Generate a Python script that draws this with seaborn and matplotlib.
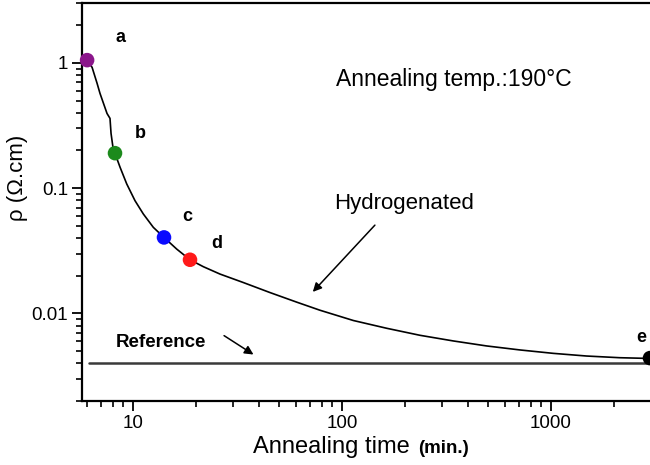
import numpy as np
import pandas as pd
import matplotlib
matplotlib.use("Agg")
import matplotlib.pyplot as plt
import matplotlib.ticker as mticker
import seaborn as sns

### Données
t_curve = [6.03, 6.37, 6.73, 6.95, 7.51, 7.76, 7.85, 8.02, 8.2, 8.67, 9.33, 10.22,
           11.2, 12.51, 14.07, 16.19, 18.74, 21.7, 26.09, 33.71, 45.24, 60.74, 78.49,
           113.3, 163.7, 236.1, 340.9, 492.4, 710.9, 1026, 1482, 2138, 2818, 2980]
rho_curve = [1.047, 0.92, 0.686, 0.57, 0.394, 0.36, 0.273, 0.211, 0.189, 0.1467,
             0.108, 0.0794, 0.0622, 0.0486, 0.0404, 0.0326, 0.0268, 0.0236, 0.0206,
             0.01764, 0.01467, 0.0123, 0.0106, 0.00878, 0.00761, 0.00669, 0.00603,
             0.0055, 0.00511, 0.0048, 0.00457, 0.00443, 0.00438, 0.00437]

pt_labels = ["a", "b", "c", "d", "e"]
pt_time = [6.03, 8.2, 14.07, 18.74, 2980]
pt_rho = [1.05, 0.19, 0.0404, 0.0268, 0.0044]
pt_colors = ["#8b168b", "#1c8a1c", "#0a0aff", "#ff1a1a", "#000000"]

ref_time = [6.16, 2980]
ref_rho = [0.0040, 0.0040]

x_ticks = [10, 100, 1000]
y_ticks = [0.01, 0.1, 1]
y_ticklabels = ["0.01", "0.1", "1"]

df_curve = pd.DataFrame({"t": t_curve, "rho": rho_curve})
df_ref = pd.DataFrame({"t": ref_time, "rho": ref_rho})
df_pts = pd.DataFrame({"t": pt_time, "rho": pt_rho, "lab": pt_labels})

### Style
sns.set_style("ticks")
plt.rcParams["font.family"] = ["Liberation Sans", "DejaVu Sans"]
plt.rcParams["text.color"] = "black"
plt.rcParams["axes.labelcolor"] = "black"
plt.rcParams["xtick.color"] = "black"
plt.rcParams["ytick.color"] = "black"

fig = plt.figure(figsize=(6.5, 4.65), dpi=100)
ax = fig.add_axes([82 / 650, 64 / 465, 568 / 650, 398 / 465])

sns.lineplot(data=df_ref, x="t", y="rho", ax=ax, color="#3a3a3a", lw=1.8, sort=False)
sns.lineplot(data=df_curve, x="t", y="rho", ax=ax, color="black", lw=1.2, sort=False)
sns.scatterplot(data=df_pts, x="t", y="rho", hue="lab", palette=pt_colors, s=110,
                edgecolor="none", legend=False, ax=ax, zorder=5, clip_on=False)

ax.set_xscale("log")
ax.set_yscale("log")
ax.set_xlim(5.7, 2980)
ax.set_ylim(0.002, 3.0)

ax.xaxis.set_major_locator(mticker.FixedLocator(x_ticks))
ax.xaxis.set_major_formatter(mticker.FixedFormatter([str(v) for v in x_ticks]))
ax.xaxis.set_minor_locator(mticker.LogLocator(base=10, subs=np.arange(2, 10), numticks=20))
ax.xaxis.set_minor_formatter(mticker.NullFormatter())
ax.yaxis.set_major_locator(mticker.FixedLocator(y_ticks))
ax.yaxis.set_major_formatter(mticker.FixedFormatter(y_ticklabels))
ax.yaxis.set_minor_locator(mticker.LogLocator(base=10, subs=np.arange(2, 10), numticks=20))
ax.yaxis.set_minor_formatter(mticker.NullFormatter())

ax.tick_params(which="major", length=7, width=1.3, labelsize=13.5, color="black",
               labelcolor="black", pad=3)
ax.tick_params(which="minor", length=4, width=1.2, color="black")
for s in ["left", "bottom", "top"]:
    ax.spines[s].set_linewidth(1.6)
    ax.spines[s].set_color("black")
ax.spines["right"].set_visible(False)

### Étiquettes des points
offsets = [(24, 16), (18, 14), (17, 15), (19, 12), (-6, 15)]
for lab, x, y, off in zip(pt_labels, pt_time, pt_rho, offsets):
    ax.annotate(lab, (x, y), xytext=off, textcoords="offset points",
                ha="center", va="center", fontsize=13, fontweight="bold")

### Textes et flèches
ax.text(0.655, 0.807, "Annealing temp.:190°C", transform=ax.transAxes,
        ha="center", va="center", fontsize=16.5)
ax.text(0.567, 0.497, "Hydrogenated", transform=ax.transAxes,
        ha="center", va="center", fontsize=16)
ax.annotate("", xy=(0.403, 0.269), xytext=(0.519, 0.447),
            xycoords="axes fraction", textcoords="axes fraction",
            arrowprops=dict(arrowstyle="-|>", color="black", lw=1.1, mutation_scale=13))
ax.text(0.139, 0.146, "Reference", transform=ax.transAxes,
        ha="center", va="center", fontsize=13.5, fontweight="bold")
ax.annotate("", xy=(0.306, 0.113), xytext=(0.246, 0.168),
            xycoords="axes fraction", textcoords="axes fraction",
            arrowprops=dict(arrowstyle="-|>", color="black", lw=1.1, mutation_scale=13))

### Axes
ax.set_xlabel("")
ax.set_ylabel("ρ (Ω.cm)", fontsize=16)
ax.yaxis.set_label_coords(-0.095, 0.56)
ax.text(0.301, -0.131, "Annealing time", transform=ax.transAxes,
        ha="left", va="baseline", fontsize=17)
ax.text(0.592, -0.131, "(min.)", transform=ax.transAxes,
        ha="left", va="baseline", fontsize=13.5, fontweight="bold")

fig.savefig("out.png", dpi=100)
